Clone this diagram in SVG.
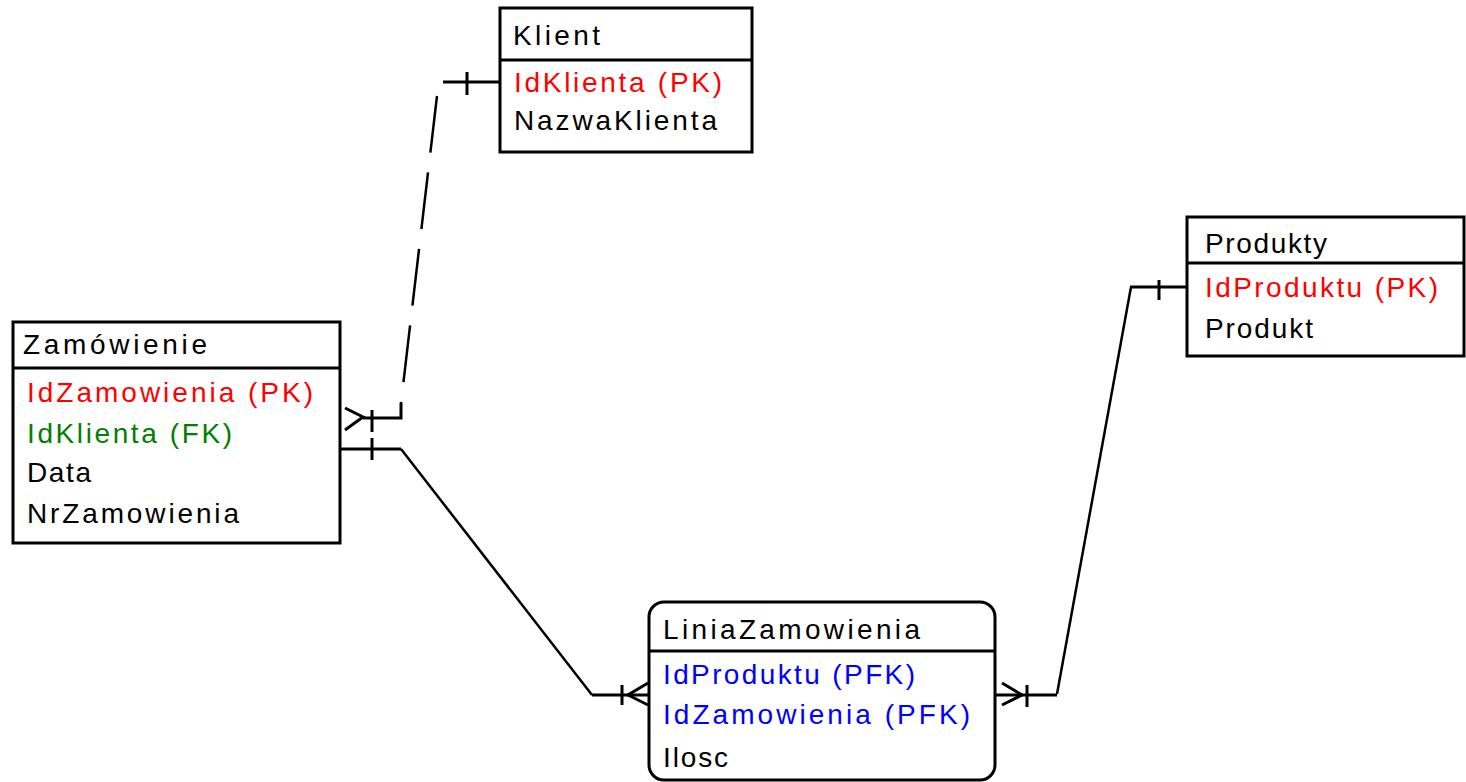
<svg xmlns="http://www.w3.org/2000/svg" width="1466" height="782" viewBox="0 0 1466 782">
<style>
.box{fill:#fff;stroke:#000;stroke-width:3}
.div{stroke:#000;stroke-width:3}
text{font-family:"Liberation Sans",Arial,sans-serif;font-size:28px;fill:#000}
.pk{fill:#ff0000}
.fk{fill:#008000}
.pfk{fill:#0000ff}
.ln{fill:none;stroke:#000;stroke-width:3}
.sl{fill:none;stroke:#000;stroke-width:2.5}
</style>
<rect width="1466" height="782" fill="#fff"/>
<g id="connectors">
  <!-- Klient - Zamowienie -->
  <path class="ln" d="M500,82 H443"/>
  <path class="ln" d="M467,72 V95"/>
  <path class="sl" d="M437,96 L401,403" stroke-dasharray="57 20"/>
  <path class="ln" d="M401,403 V418 H363"/>
  <path class="ln" d="M372,410 V432"/>
  <path class="ln" d="M345,408 L363,417 L345,430"/>
  <!-- Zamowienie - LiniaZamowienia -->
  <path class="ln" d="M340,449 H401"/>
  <path class="ln" d="M372,438 V460"/>
  <path class="sl" d="M401,449 L592,695"/>
  <path class="ln" d="M592,695 H650"/>
  <path class="ln" d="M622,685 V705"/>
  <path class="ln" d="M648,683 L628,695 L648,705"/>
  <!-- LiniaZamowienia - Produkty -->
  <path class="ln" d="M1002,683 L1022,695 L1002,705"/>
  <path class="ln" d="M995,695 H1057"/>
  <path class="ln" d="M1027,685 V707"/>
  <path class="sl" d="M1057,694 L1131,287"/>
  <path class="ln" d="M1130,287 H1187"/>
  <path class="ln" d="M1159,280 V300"/>
</g>
<g id="klient">
  <rect class="box" x="500" y="8" width="252" height="144"/>
  <line class="div" x1="500" y1="60" x2="752" y2="60"/>
  <text x="513" y="45" textLength="87" lengthAdjust="spacing">Klient</text>
  <text class="pk" x="514" y="92" textLength="208" lengthAdjust="spacing">IdKlienta (PK)</text>
  <text x="514" y="130" textLength="203" lengthAdjust="spacing">NazwaKlienta</text>
</g>
<g id="produkty">
  <rect class="box" x="1187" y="217" width="277" height="139"/>
  <line class="div" x1="1187" y1="263" x2="1464" y2="263"/>
  <text x="1205" y="253" textLength="122" lengthAdjust="spacing">Produkty</text>
  <text class="pk" x="1205" y="297" textLength="233" lengthAdjust="spacing">IdProduktu (PK)</text>
  <text x="1205" y="338" textLength="108" lengthAdjust="spacing">Produkt</text>
</g>
<g id="zamowienie">
  <rect class="box" x="13" y="322" width="327" height="221"/>
  <line class="div" x1="13" y1="368" x2="340" y2="368"/>
  <text x="23" y="354" textLength="184" lengthAdjust="spacing">Zamówienie</text>
  <text class="pk" x="27" y="402" textLength="286" lengthAdjust="spacing">IdZamowienia (PK)</text>
  <text class="fk" x="27" y="443" textLength="205" lengthAdjust="spacing">IdKlienta (FK)</text>
  <text x="27" y="482" textLength="64" lengthAdjust="spacing">Data</text>
  <text x="27" y="523" textLength="212" lengthAdjust="spacing">NrZamowienia</text>
</g>
<g id="liniazamowienia">
  <rect class="box" x="649" y="602" width="346" height="178" rx="15" ry="15"/>
  <line class="div" x1="649" y1="651" x2="995" y2="651"/>
  <text x="663" y="639" textLength="257" lengthAdjust="spacing">LiniaZamowienia</text>
  <text class="pfk" x="663" y="684" textLength="252" lengthAdjust="spacing">IdProduktu (PFK)</text>
  <text class="pfk" x="663" y="724" textLength="307" lengthAdjust="spacing">IdZamowienia (PFK)</text>
  <text x="663" y="767" textLength="65" lengthAdjust="spacing">Ilosc</text>
</g>
</svg>
